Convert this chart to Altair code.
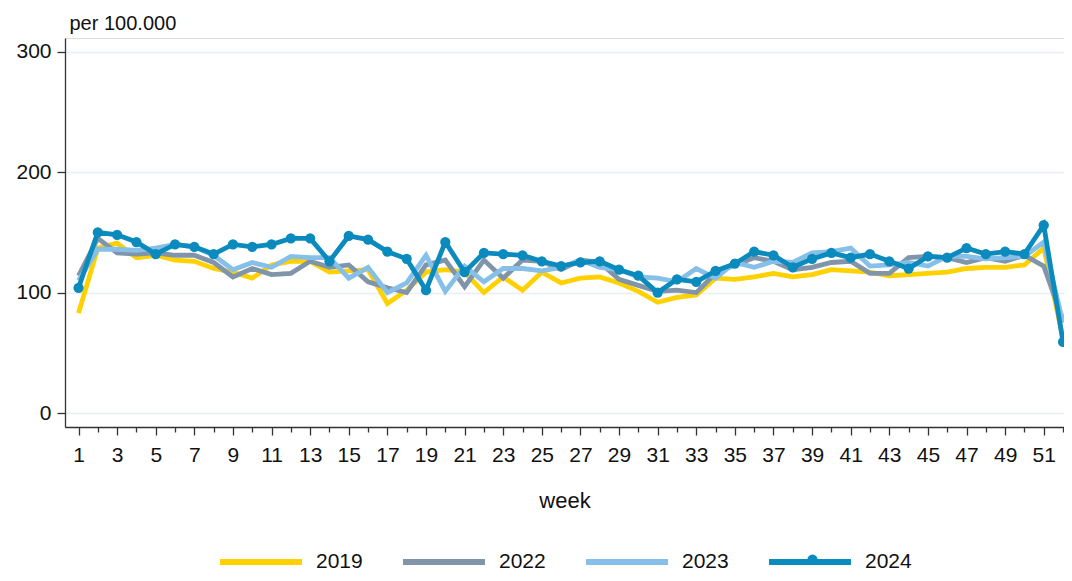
import altair as alt
import pandas as pd

weeks = list(range(1, 53))
odd_weeks = [w for w in weeks if w % 2 == 1]
even_weeks = [w for w in weeks if w % 2 == 0]
years = ["2019", "2022", "2023", "2024"]
colors = ["#FFD100", "#8195AA", "#86C0E8", "#0A8ABD"]

v2019 = [83,137,141,129,131,127,126,120,117,112,123,126,126,117,118,119,91,102,117,119,117,100,113,102,117,108,112,113,108,101,92,96,98,112,111,113,116,113,115,119,118,117,114,115,116,117,120,121,121,123,137,62]
v2022 = [114,145,133,132,133,131,131,125,113,120,115,116,126,121,123,109,104,100,123,127,105,127,112,127,126,119,127,125,111,106,101,102,100,116,123,129,126,119,121,125,126,116,116,129,130,129,125,129,126,131,122,77]
v2023 = [110,136,136,135,137,140,138,131,119,125,121,130,129,129,112,121,100,108,131,101,122,109,120,120,118,121,127,121,119,113,112,109,120,112,125,121,126,125,133,134,137,122,123,125,122,130,130,128,129,130,142,75]
v2024 = [104,150,148,142,132,140,138,132,140,138,140,145,145,126,147,144,134,128,102,142,117,133,132,131,126,122,125,126,119,114,100,111,109,118,124,134,131,121,128,133,129,132,126,120,130,129,137,132,134,132,156,59]

series = {"2019": v2019, "2022": v2022, "2023": v2023, "2024": v2024}
rows = []
for y, vals in series.items():
    for w, v in zip(weeks, vals):
        rows.append({"week": w, "year": y, "value": v})
df = pd.DataFrame(rows)

FONT = "Liberation Sans"

xscale = alt.Scale(domain=[0.3, 52.05], nice=False, zero=False)
yscale = alt.Scale(domain=[-11.6, 311.4], nice=False, zero=False)

xaxis = alt.Axis(
    title="week",
    values=odd_weeks,
    tickSize=8,
    labelPadding=9,
    labelFontSize=21,
    labelFont=FONT,
    labelColor="#111",
    titleFontSize=22,
    titleFont=FONT,
    titleFontWeight="normal",
    titleColor="#111",
    titleBaseline="alphabetic",
    titleY=80,
    grid=False,
    domainColor="#333",
    tickColor="#333",
    domainWidth=1.3,
    tickWidth=1.3,
    labelOverlap=False,
    labelFlush=False,
)

xaxis_minor = alt.Axis(
    orient="bottom",
    title="",
    values=even_weeks,
    tickSize=5,
    labels=False,
    domain=False,
    grid=False,
    tickColor="#333",
    tickWidth=1.3,
)

yaxis = alt.Axis(
    title="per 100.000",
    values=[0, 100, 200, 300],
    tickSize=8,
    labelPadding=6,
    labelFontSize=21,
    labelFont=FONT,
    labelColor="#111",
    titleFontSize=20,
    titleFont=FONT,
    titleFontWeight="normal",
    titleColor="#111",
    titleAngle=0,
    titleAlign="left",
    titleBaseline="alphabetic",
    titleX=4,
    titleY=-9,
    grid=True,
    gridColor="#E8EEF1",
    gridWidth=1.5,
    domainColor="#333",
    tickColor="#333",
    domainWidth=1.3,
    tickWidth=1.3,
)

lines = alt.Chart(df).mark_line(strokeWidth=4.8).encode(
    x=alt.X("week:Q", scale=xscale, axis=xaxis),
    y=alt.Y("value:Q", scale=yscale, axis=yaxis),
    color=alt.Color(
        "year:N",
        scale=alt.Scale(domain=years, range=colors),
        legend=alt.Legend(
            title=None,
            orient="none",
            direction="horizontal",
            legendX=152,
            legendY=480,
            padding=0,
            symbolType="stroke",
            symbolSize=6724,
            symbolStrokeWidth=6,
            labelFontSize=21,
            labelFont=FONT,
            labelColor="#111",
            labelOffset=11,
            columnPadding=28,
        ),
    ),
    order=alt.Order("week:Q"),
)

points = alt.Chart(df[df["year"] == "2024"]).mark_circle(size=105, opacity=1).encode(
    x=alt.X("week:Q", scale=xscale, axis=xaxis_minor),
    y=alt.Y("value:Q", scale=yscale),
    fill=alt.Fill(
        "year:N",
        scale=alt.Scale(domain=["2024"], range=["#0A8ABD"]),
        legend=alt.Legend(
            title=None,
            orient="none",
            direction="horizontal",
            legendX=742,
            legendY=516,
            padding=0,
            symbolType="circle",
            symbolSize=105,
            symbolOpacity=1,
            symbolStrokeWidth=0,
            labelExpr="''",
            labelOffset=0,
        ),
    ),
)

chart = (
    alt.layer(lines, points)
    .resolve_axis(x="independent")
    .resolve_legend(color="independent", fill="independent")
    .properties(
        width=999,
        height=389,
        autosize=alt.AutoSizeParams(type="none"),
        padding={"left": 57, "top": 30, "right": 0, "bottom": 146},
    )
    .configure_view(stroke=None)
    .configure(background="white")
)

chart.save("out.html", embed_options={"renderer": "svg", "actions": False})
